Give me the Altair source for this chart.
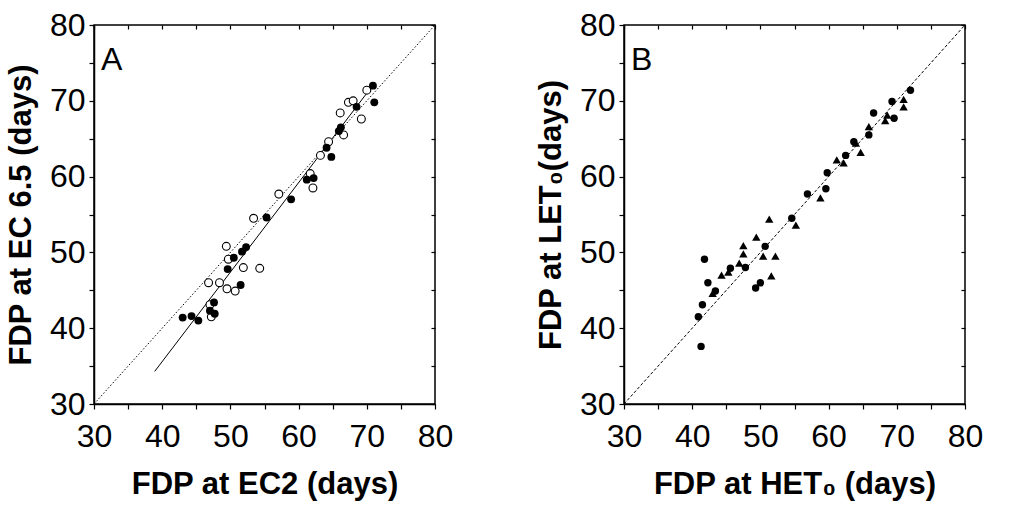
import altair as alt
import pandas as pd

# ---------------- data ----------------
ticks = [30, 35, 40, 45, 50, 55, 60, 65, 70, 75, 80]

# Panel A: filled circles
a_fill_x = [43.0, 44.3, 45.3, 47.0, 47.6, 47.7, 49.6, 50.5, 51.5, 51.7, 52.3, 55.3,
            58.9, 61.2, 62.2, 64.1, 64.8, 65.9, 66.2, 68.5, 70.9, 71.1]
a_fill_y = [41.4, 41.6, 41.0, 42.3, 43.4, 41.9, 47.8, 49.3, 45.7, 50.1, 50.7, 54.6,
            57.0, 59.6, 59.8, 63.8, 62.6, 66.0, 66.5, 69.2, 72.0, 69.8]
# Panel A: open circles
a_open_x = [46.8, 47.0, 47.2, 48.4, 49.4, 49.5, 49.7, 50.7, 51.9, 53.4, 54.3, 57.1,
            61.7, 62.1, 63.2, 64.4, 66.1, 66.6, 67.3, 68.0, 69.2, 70.0]
a_open_y = [46.0, 43.1, 41.5, 46.0, 50.8, 45.2, 49.1, 44.9, 48.0, 54.5, 47.9, 57.7,
            60.4, 58.5, 62.8, 64.6, 68.4, 65.5, 69.8, 70.0, 67.6, 71.4]
# Panel A: regression line end points
reg_x = [38.9, 71.1]
reg_y = [34.3, 72.3]
# 1:1 line
one_x = [30, 80]
one_y = [30, 80]

# Panel B: circles
b_circ_x = [72.0, 69.3, 69.6, 66.6, 65.9, 63.7, 62.5, 59.8, 59.6, 56.9, 54.6, 50.7,
            47.8, 45.6, 43.4, 42.3, 41.8, 41.5, 40.9, 41.3, 49.3, 50.0]
b_circ_y = [71.4, 69.9, 67.7, 68.4, 65.5, 64.6, 62.8, 60.5, 58.4, 57.7, 54.5, 50.8,
            48.0, 47.9, 44.9, 46.0, 49.1, 43.1, 41.5, 37.6, 45.3, 46.0]
# Panel B: triangles
b_tri_x = [71.0, 71.0, 68.6, 68.3, 65.9, 64.7, 64.0, 61.2, 62.2, 58.8, 51.3, 55.2,
           49.4, 47.5, 47.5, 50.4, 52.2, 46.9, 45.3, 44.3, 51.6, 43.0]
b_tri_y = [70.2, 69.2, 68.1, 67.4, 66.6, 63.2, 64.4, 62.2, 61.8, 57.2, 54.4, 53.6,
           52.0, 50.9, 49.8, 49.5, 49.5, 48.6, 47.4, 47.0, 46.9, 44.6]

FONT = "Liberation Sans"
W, H = 341, 379

sx = alt.Scale(domain=[30, 80], nice=False, zero=False)
sy = alt.Scale(domain=[30, 80], nice=False, zero=False)
label_expr = "datum.value % 10 == 0 ? datum.label : ''"


def main_axes(xtitle, ytitle):
    ax = alt.Axis(values=ticks, labelExpr=label_expr, title=xtitle, orient="bottom",
                  labelOverlap=False, labelFlush=False, labelPadding=12, titlePadding=17)
    ay = alt.Axis(values=ticks, labelExpr=label_expr, title=ytitle, orient="left",
                  labelOverlap=False, labelFlush=False, labelPadding=4, titlePadding=12)
    return ax, ay


def inner_axes():
    ax = alt.Axis(values=ticks, orient="top", labels=False, domain=False, title=None,
                  tickSize=4, offset=-4)
    ay = alt.Axis(values=ticks, orient="right", labels=False, domain=False, title=None,
                  tickSize=4, offset=-4)
    return ax, ay


def panel(points_layers, line_df, dash, letter, xtitle, ytitle, extra_lines=None):
    ax, ay = main_axes(xtitle, ytitle)
    ix, iy = inner_axes()
    base_line = alt.Chart(line_df).mark_line(color="black", strokeWidth=1, strokeDash=dash).encode(
        x=alt.X("x:Q", scale=sx, axis=ax),
        y=alt.Y("y:Q", scale=sy, axis=ay),
    )
    frame = alt.Chart(line_df).mark_line(opacity=0).encode(
        x=alt.X("x:Q", scale=sx, axis=ix),
        y=alt.Y("y:Q", scale=sy, axis=iy),
    )
    layers = [base_line, frame]
    if extra_lines is not None:
        layers.append(extra_lines)
    layers += points_layers
    txt = alt.Chart(pd.DataFrame({"t": [letter]})).mark_text(
        font=FONT, fontSize=32, align="left", baseline="alphabetic", color="black"
    ).encode(x=alt.value(7), y=alt.value(45), text="t:N")
    layers.append(txt)
    return alt.layer(*layers).resolve_axis(x="independent", y="independent").properties(width=W, height=H)


one_df = pd.DataFrame({"x": one_x, "y": one_y})
reg_df = pd.DataFrame({"x": reg_x, "y": reg_y})

reg_line = alt.Chart(reg_df).mark_line(color="black", strokeWidth=1).encode(
    x=alt.X("x:Q", scale=sx, axis=None), y=alt.Y("y:Q", scale=sy, axis=None))

a_open = alt.Chart(pd.DataFrame({"x": a_open_x, "y": a_open_y})).mark_point(
    shape="circle", size=62, filled=False, fill="white", fillOpacity=1, stroke="black",
    strokeWidth=1.1, opacity=1
).encode(x=alt.X("x:Q", scale=sx, axis=None), y=alt.Y("y:Q", scale=sy, axis=None))

a_fill = alt.Chart(pd.DataFrame({"x": a_fill_x, "y": a_fill_y})).mark_point(
    shape="circle", size=62, filled=True, color="black", opacity=1
).encode(x=alt.X("x:Q", scale=sx, axis=None), y=alt.Y("y:Q", scale=sy, axis=None))

b_circ = alt.Chart(pd.DataFrame({"x": b_circ_x, "y": b_circ_y})).mark_point(
    shape="circle", size=55, filled=True, color="black", opacity=1
).encode(x=alt.X("x:Q", scale=sx, axis=None), y=alt.Y("y:Q", scale=sy, axis=None))

b_tri = alt.Chart(pd.DataFrame({"x": b_tri_x, "y": b_tri_y})).mark_point(
    shape="triangle-up", size=70, filled=True, color="black", opacity=1
).encode(x=alt.X("x:Q", scale=sx, axis=None), y=alt.Y("y:Q", scale=sy, axis=None))

panelA = panel([a_open, a_fill], one_df, [1.5, 2], "A",
               "FDP at EC2 (days)", "FDP at EC 6.5 (days)", extra_lines=reg_line)
panelB = panel([b_tri, b_circ], one_df, [3, 2], "B",
               "FDP at HET\u2080 (days)", "FDP at LET\u2080(days)")

chart = alt.hconcat(panelA, panelB, spacing=189, bounds="flush").properties(
    padding={"left": 4, "top": 8, "right": 5, "bottom": 5},
    background="white",
).configure_view(stroke="black", strokeWidth=1.5).configure_axis(
    labelFont=FONT, titleFont=FONT, labelFontSize=32, titleFontSize=31,
    titleFontWeight="bold", labelColor="black", titleColor="black",
    domainColor="black", tickColor="black", grid=False, tickSize=5,
    domainWidth=1.5, tickWidth=1.2,
)

chart.save("out.html", embed_options={"renderer": "svg", "actions": False})
